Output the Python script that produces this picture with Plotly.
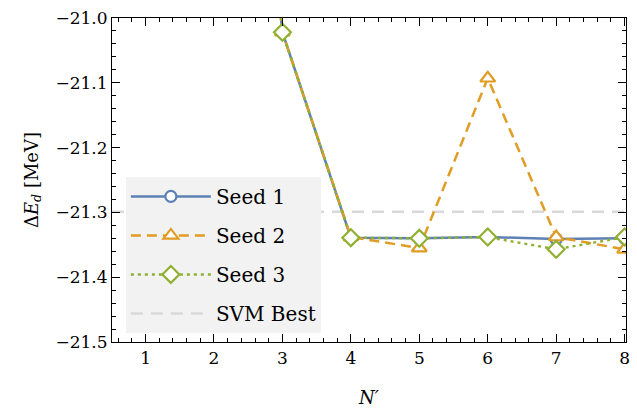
import plotly.graph_objects as go

N = [1, 2, 3, 4, 5, 6, 7, 8]
seed1 = [-19.0, -20.0, -21.022, -21.339, -21.340, -21.338, -21.341, -21.340]
seed2 = [-19.0, -20.0, -21.022, -21.338, -21.355, -21.093, -21.338, -21.357]
seed3 = [-19.0, -20.0, -21.022, -21.339, -21.340, -21.338, -21.357, -21.338]
svm_best = -21.299

names = ["Seed 1", "Seed 2", "Seed 3"]
colors = ["#5E81B5", "#E19C24", "#8FB032"]
symbols = ["circle", "triangle-up", "diamond"]
dashes = ["solid", "10px,6px", "3px,4px"]
msizes = [11, 13, 13]
series = [seed1, seed2, seed3]

FONT = "DejaVu Serif"

fig = go.Figure()
for i, (nm, ys) in enumerate(zip(names, series)):
    fig.add_trace(go.Scatter(
        x=N, y=ys, name=nm, mode="lines+markers", legendgroup=nm, legendrank=i + 1,
        line=dict(color=colors[i], width=2.5, dash=dashes[i]),
        marker=dict(symbol=symbols[i], size=msizes[i], color="white",
                    line=dict(color=colors[i], width=2.2)),
    ))

fig.add_shape(type="line", xref="paper", x0=0, x1=1, yref="y", y0=svm_best, y1=svm_best,
              line=dict(color="#d9d9d9", width=2.5, dash="12px,8px"),
              layer="below", showlegend=True, name="SVM Best", legendgroup="SVM Best",
              legendrank=4)

axis_common = dict(
    showline=True, linecolor="black", linewidth=1.2, mirror="allticks",
    ticks="inside", ticklen=8, tickwidth=1, tickcolor="black",
    showgrid=False, zeroline=False,
    tickfont=dict(family=FONT, size=17, color="black"),
)

fig.update_layout(
    width=637, height=416,
    margin=dict(l=112, r=7, t=18, b=74),
    plot_bgcolor="white", paper_bgcolor="white",
    font=dict(family=FONT, color="black"),
    xaxis=dict(range=[0.51, 8.02], tickvals=N, ticktext=[str(n) for n in N],
               minor=dict(dtick=0.2, ticks="inside", ticklen=4, tickcolor="black", showgrid=False),
               title=dict(text="<i>N′</i>", font=dict(family=FONT, size=18, color="black"), standoff=24),
               **axis_common),
    yaxis=dict(range=[-21.5, -21.0], dtick=0.1, tickformat=".1f",
               minor=dict(dtick=0.02, ticks="inside", ticklen=4, tickcolor="black", showgrid=False),
               title=dict(text="Δ<i>E</i><sub><i>d</i></sub> [MeV]", font=dict(family=FONT, size=18, color="black"), standoff=12),
               **axis_common),
    legend=dict(x=0.027, y=0.028, xanchor="left", yanchor="bottom",
                bgcolor="#f2f2f2", borderwidth=0,
                font=dict(family=FONT, size=20, color="black"),
                tracegroupgap=10, itemwidth=80),
    showlegend=True,
)

fig.write_html("out.html")
